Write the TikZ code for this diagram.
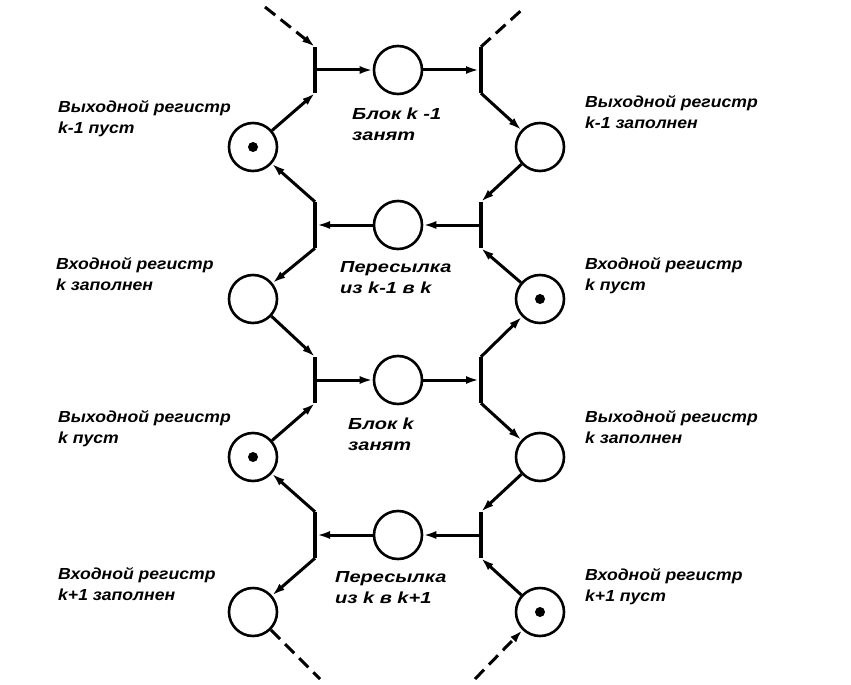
\documentclass[tikz,border=0pt]{standalone}
\usepackage{fontspec}
\newfontfamily\labelfont[FakeStretch=1.1]{Liberation Sans}
\newfontfamily\blockfont[FakeStretch=1.25]{Liberation Sans}
\usetikzlibrary{arrows.meta, positioning, calc}

\begin{document}
\begin{tikzpicture}[x=1pt, y=-1pt,
    place/.style={circle, draw, line width=2.6pt, minimum size=48pt, inner sep=0pt},
    bar/.style={rectangle, fill=black, minimum width=3.6pt, minimum height=46pt, inner sep=0pt},
    token/.style={circle, fill=black, minimum size=10pt, inner sep=0pt},
    arc/.style={line width=3pt, -{Latex[length=13pt,width=8pt]}},
    dline/.style={line width=3pt, dash pattern=on 13pt off 7pt},
    darc/.style={arc, dash pattern=on 13pt off 7pt},
    lbl/.style={font=\labelfont\bfseries\itshape\fontsize{16}{21}\selectfont, align=left, anchor=north west, inner sep=0pt},
    blbl/.style={lbl, font=\blockfont\bfseries\itshape\fontsize{16}{21}\selectfont}]
    \useasboundingbox (0,0) rectangle (851,685);

    % =========================================================
    % TRANSITIONS AND BLOCK PLACES (ONE ROW PER STEP)
    % =========================================================
    \foreach \i/\y in {1/70, 2/225, 3/380, 4/535} {
        \node[bar] (tl\i) at (315,\y) {};
        \node[bar] (tr\i) at (481,\y) {};
        \node[place] (b\i) at (398,\y) {};
    }

    % =========================================================
    % REGISTER PLACES (LEFT AND RIGHT)
    % =========================================================
    \foreach \i/\y in {1/147, 2/299, 3/457, 4/612} {
        \node[place] (l\i) at (253,\y) {};
        \node[place] (r\i) at (540,\y) {};
    }

    % Markers
    \node[token] (t1) at (l1) {};
    \node[token] (t2) at (r2) {};
    \node[token] (t3) at (l3) {};
    \node[token] (t4) at (r4) {};

    % =========================================================
    % ARCS
    % =========================================================
    \draw[arc] (tl1) -- (b1);
    \draw[arc] (b1) -- (tr1);
    \draw[arc] (tr2) -- (b2);
    \draw[arc] (b2) -- (tl2);
    \draw[arc] (tl3) -- (b3);
    \draw[arc] (b3) -- (tr3);
    \draw[arc] (tr4) -- (b4);
    \draw[arc] (b4) -- (tl4);

    % left side
    \draw[arc] (l1) -- (tl1.south);
    \draw[arc] (tl2.north) -- (l1);
    \draw[arc] (tl2.south) -- (l2);
    \draw[arc] (l2) -- (tl3.north);
    \draw[arc] (l3) -- (tl3.south);
    \draw[arc] (tl4.north) -- (l3);
    \draw[arc] (tl4.south) -- (l4);

    % right side
    \draw[arc] (tr1.south) -- (r1);
    \draw[arc] (r1) -- (tr2.north);
    \draw[arc] (r2) -- (tr2.south);
    \draw[arc] (tr3.north) -- (r2);
    \draw[arc] (tr3.south) -- (r3);
    \draw[arc] (r3) -- (tr4.north);
    \draw[arc] (r4) -- (tr4.south);

    % neighbouring stages
    \coordinate (inTL) at (265,7);
    \coordinate (outTR) at (525,7);
    \coordinate (outBL) at (320,679);
    \coordinate (inBR) at (475,679);
    \draw[darc] (inTL) -- (tl1.north);
    \draw[dline] (tr1.north) -- (outTR);
    \draw[dline] (l4) -- (outBL);
    \draw[darc] (inBR) -- (r4);

    % =========================================================
    % LABELS
    % =========================================================
    \node[lbl] (lab-l1) at (58,100) {Выходной регистр\\k-1 пуст};
    \node[lbl] (lab-l2) at (56,257) {Входной регистр\\k заполнен};
    \node[lbl] (lab-l3) at (58,410) {Выходной регистр\\k пуст};
    \node[lbl] (lab-l4) at (58,567) {Входной регистр\\k+1 заполнен};

    \node[lbl] (lab-r1) at (585,95) {Выходной регистр\\k-1 заполнен};
    \node[lbl] (lab-r2) at (585,257) {Входной регистр\\k пуст};
    \node[lbl] (lab-r3) at (585,410) {Выходной регистр\\k заполнен};
    \node[lbl] (lab-r4) at (585,568) {Входной регистр\\k+1 пуст};

    \node[blbl] (lab-b1) at (352,108) {Блок k -1\\занят};
    \node[blbl] (lab-b2) at (340,261) {Пересылка\\из k-1 в k};
    \node[blbl] (lab-b3) at (348,418) {Блок k\\занят};
    \node[blbl] (lab-b4) at (335,571) {Пересылка\\из k в k+1};
\end{tikzpicture}
\end{document}
